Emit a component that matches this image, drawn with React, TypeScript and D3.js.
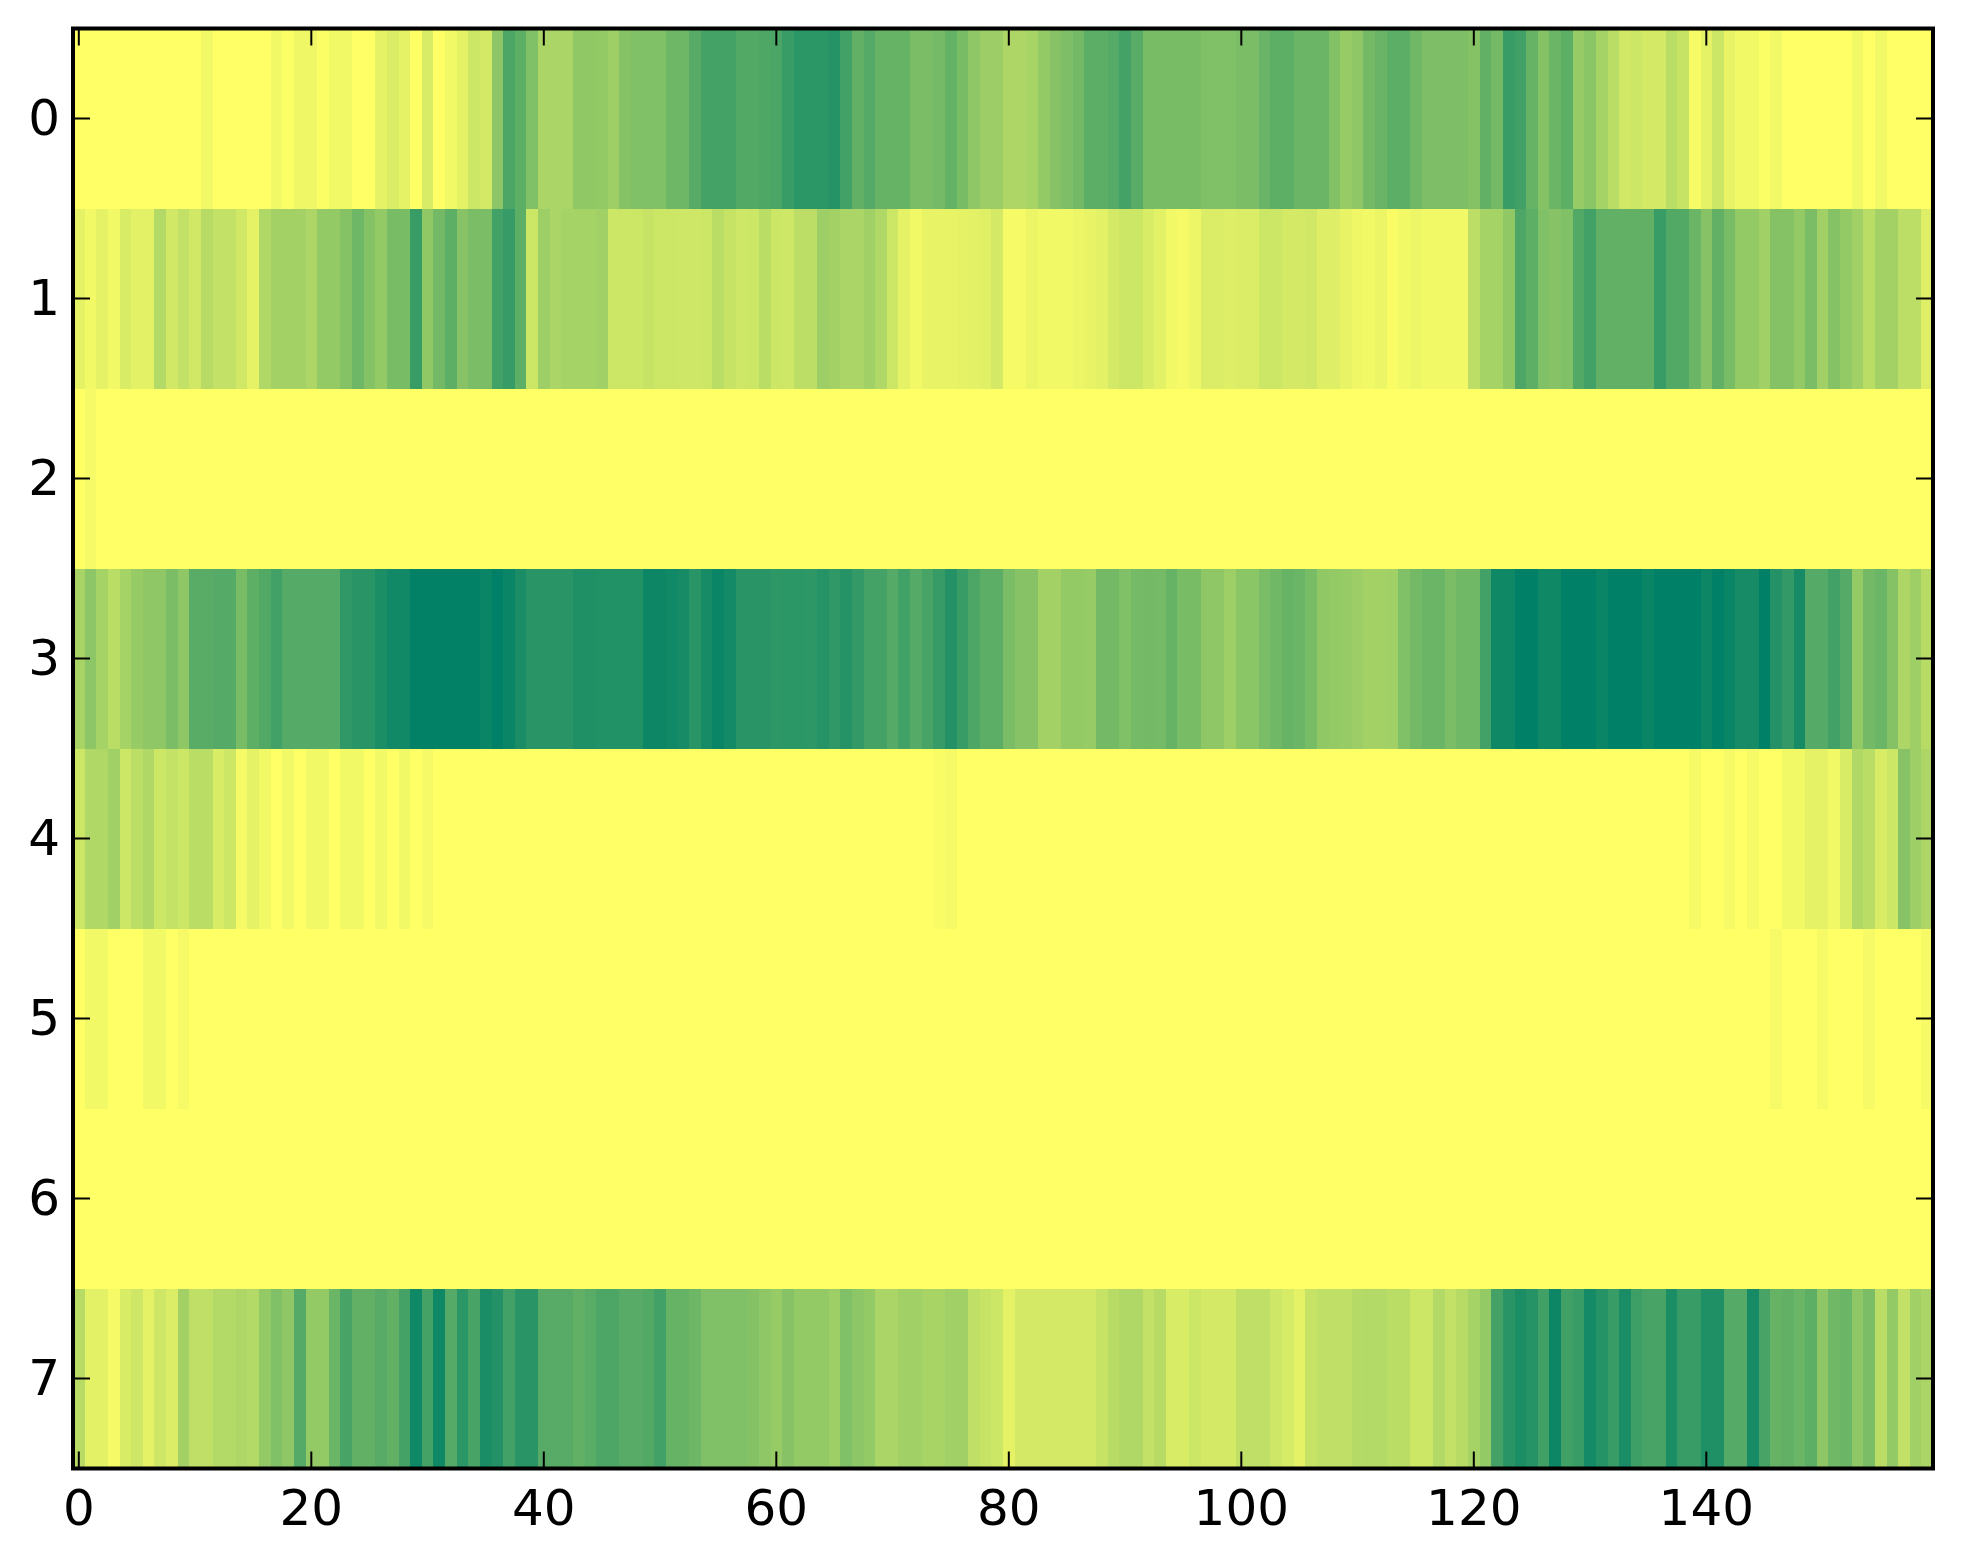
import React, { useEffect, useRef } from 'react';
import * as d3 from 'd3';

// Values, 0 = pale end of the colour map, 100 = dark end
const row0 = [
  0, 0, 0, 0, 0, 0, 0, 0, 0, 0,
  0, 5, 0, 0, 0, 0, 0, 5, 1, 6,
  6, 1, 5, 5, 0, 0, 10, 14, 10, 0,
  15, 0, 5, 10, 20, 17, 45, 70, 63, 50,
  33, 33, 33, 43, 43, 42, 38, 48, 50, 50,
  50, 57, 57, 66, 73, 73, 73, 68, 68, 69,
  71, 78, 83, 83, 83, 85, 74, 62, 67, 60,
  60, 60, 52, 52, 54, 61, 53, 44, 39, 39,
  32, 32, 34, 42, 47, 51, 55, 64, 64, 67,
  73, 65, 53, 53, 53, 53, 53, 50, 50, 50,
  52, 52, 59, 63, 63, 58, 58, 58, 49, 41,
  44, 55, 59, 64, 64, 56, 51, 51, 51, 51,
  48, 62, 55, 78, 75, 60, 48, 58, 63, 41,
  46, 35, 27, 18, 20, 17, 17, 27, 22, 3,
  10, 20, 9, 5, 5, 1, 5, 0, 0, 0,
  0, 0, 0, 5, 0, 5, 0, 0, 0, 0,
];
const row1 = [
  10, 5, 10, 5, 15, 11, 11, 30, 18, 24,
  18, 28, 24, 24, 18, 10, 31, 36, 36, 36,
  32, 42, 42, 48, 57, 48, 42, 53, 53, 78,
  43, 55, 63, 47, 52, 52, 74, 79, 63, 20,
  38, 33, 35, 35, 35, 37, 20, 20, 20, 22,
  20, 20, 19, 19, 20, 27, 22, 19, 20, 27,
  20, 19, 26, 26, 38, 36, 33, 33, 37, 31,
  20, 10, 5, 9, 9, 9, 10, 11, 12, 17,
  4, 4, 8, 5, 5, 5, 7, 9, 11, 17,
  20, 20, 15, 11, 5, 4, 7, 14, 14, 13,
  14, 14, 20, 20, 17, 17, 18, 13, 13, 9,
  6, 5, 8, 2, 5, 7, 5, 5, 5, 5,
  26, 35, 35, 43, 70, 63, 50, 47, 50, 68,
  74, 62, 62, 62, 62, 62, 78, 68, 68, 58,
  47, 62, 53, 42, 42, 37, 48, 48, 42, 52,
  37, 48, 42, 37, 27, 36, 36, 26, 26, 13,
];
const row2 = [
  0, 4, 0, 0, 0, 0, 0, 0, 0, 0,
  0, 0, 0, 0, 0, 0, 0, 0, 0, 0,
  0, 0, 0, 0, 0, 0, 0, 0, 0, 0,
  0, 0, 0, 0, 0, 0, 0, 0, 0, 0,
  0, 0, 0, 0, 0, 0, 0, 0, 0, 0,
  0, 0, 0, 0, 0, 0, 0, 0, 0, 0,
  0, 0, 0, 0, 0, 0, 0, 0, 0, 0,
  0, 0, 0, 0, 0, 0, 0, 0, 0, 0,
  0, 0, 0, 0, 0, 0, 0, 0, 0, 0,
  0, 0, 0, 0, 0, 0, 0, 0, 0, 0,
  0, 0, 0, 0, 0, 0, 0, 0, 0, 0,
  0, 0, 0, 0, 0, 0, 0, 0, 0, 0,
  0, 0, 0, 0, 0, 0, 0, 0, 0, 0,
  0, 0, 0, 0, 0, 0, 0, 0, 0, 0,
  0, 0, 0, 0, 0, 0, 0, 0, 0, 0,
  0, 0, 0, 0, 0, 0, 0, 0, 0, 0,
];
const row3 = [
  34, 45, 35, 27, 35, 41, 44, 44, 52, 44,
  65, 65, 67, 67, 53, 63, 68, 74, 67, 67,
  67, 67, 67, 81, 84, 84, 89, 93, 93, 99,
  99, 99, 99, 99, 99, 96, 100, 96, 90, 84,
  84, 84, 84, 88, 88, 87, 87, 87, 87, 95,
  95, 93, 91, 84, 91, 96, 92, 84, 84, 84,
  82, 83, 83, 82, 85, 81, 85, 80, 73, 73,
  67, 74, 67, 72, 79, 86, 78, 70, 64, 64,
  52, 47, 47, 36, 36, 42, 42, 41, 55, 55,
  50, 54, 55, 54, 60, 53, 53, 44, 44, 38,
  46, 46, 52, 56, 60, 58, 53, 43, 42, 41,
  39, 36, 36, 37, 50, 55, 58, 58, 52, 56,
  56, 74, 94, 94, 100, 100, 94, 94, 100, 100,
  100, 96, 100, 100, 100, 96, 100, 100, 100, 100,
  95, 100, 96, 91, 91, 100, 86, 80, 91, 67,
  67, 74, 67, 42, 55, 58, 48, 32, 38, 28,
];
const row4 = [
  20, 31, 31, 37, 20, 26, 31, 20, 23, 20,
  27, 27, 15, 20, 4, 10, 5, 0, 5, 0,
  5, 5, 0, 5, 5, 0, 5, 0, 5, 0,
  4, 0, 0, 0, 0, 0, 0, 0, 0, 0,
  0, 0, 0, 0, 0, 0, 0, 0, 0, 0,
  0, 0, 0, 0, 0, 0, 0, 0, 0, 0,
  0, 0, 0, 0, 0, 0, 0, 0, 0, 0,
  0, 0, 0, 0, 2, 4, 0, 0, 0, 0,
  0, 0, 0, 0, 0, 0, 0, 0, 0, 0,
  0, 0, 0, 0, 0, 0, 0, 0, 0, 0,
  0, 0, 0, 0, 0, 0, 0, 0, 0, 0,
  0, 0, 0, 0, 0, 0, 0, 0, 0, 0,
  0, 0, 0, 0, 0, 0, 0, 0, 0, 0,
  0, 0, 0, 0, 0, 0, 0, 0, 0, 4,
  0, 0, 4, 0, 4, 0, 0, 5, 5, 10,
  10, 5, 15, 31, 27, 15, 20, 47, 38, 32,
];
const row5 = [
  0, 5, 5, 0, 0, 0, 5, 5, 0, 4,
  0, 0, 0, 0, 0, 0, 0, 0, 0, 0,
  0, 0, 0, 0, 0, 0, 0, 0, 0, 0,
  0, 0, 0, 0, 0, 0, 0, 0, 0, 0,
  0, 0, 0, 0, 0, 0, 0, 0, 0, 0,
  0, 0, 0, 0, 0, 0, 0, 0, 0, 0,
  0, 0, 0, 0, 0, 0, 0, 0, 0, 0,
  0, 0, 0, 0, 0, 0, 0, 0, 0, 0,
  0, 0, 0, 0, 0, 0, 0, 0, 0, 0,
  0, 0, 0, 0, 0, 0, 0, 0, 0, 0,
  0, 0, 0, 0, 0, 0, 0, 0, 0, 0,
  0, 0, 0, 0, 0, 0, 0, 0, 0, 0,
  0, 0, 0, 0, 0, 0, 0, 0, 0, 0,
  0, 0, 0, 0, 0, 0, 0, 0, 0, 0,
  0, 0, 0, 0, 0, 0, 4, 0, 0, 0,
  4, 0, 0, 0, 4, 0, 0, 0, 0, 4,
];
const row6 = [
  0, 0, 0, 0, 0, 0, 0, 0, 0, 0,
  0, 0, 0, 0, 0, 0, 0, 0, 0, 0,
  0, 0, 0, 0, 0, 0, 0, 0, 0, 0,
  0, 0, 0, 0, 0, 0, 0, 0, 0, 0,
  0, 0, 0, 0, 0, 0, 0, 0, 0, 0,
  0, 0, 0, 0, 0, 0, 0, 0, 0, 0,
  0, 0, 0, 0, 0, 0, 0, 0, 0, 0,
  0, 0, 0, 0, 0, 0, 0, 0, 0, 0,
  0, 0, 0, 0, 0, 0, 0, 0, 0, 0,
  0, 0, 0, 0, 0, 0, 0, 0, 0, 0,
  0, 0, 0, 0, 0, 0, 0, 0, 0, 0,
  0, 0, 0, 0, 0, 0, 0, 0, 0, 0,
  0, 0, 0, 0, 0, 0, 0, 0, 0, 0,
  0, 0, 0, 0, 0, 0, 0, 0, 0, 0,
  0, 0, 0, 0, 0, 0, 0, 0, 0, 0,
  0, 0, 0, 0, 0, 0, 0, 0, 0, 0,
];
const row7 = [
  28, 11, 11, 4, 15, 19, 10, 19, 14, 36,
  25, 25, 30, 30, 32, 30, 42, 50, 44, 67,
  42, 42, 58, 72, 62, 62, 66, 62, 73, 94,
  73, 94, 67, 83, 72, 90, 86, 74, 84, 84,
  66, 66, 66, 62, 65, 70, 70, 66, 66, 68,
  74, 60, 60, 57, 50, 50, 50, 50, 48, 44,
  41, 47, 42, 42, 42, 38, 50, 45, 42, 33,
  33, 37, 37, 34, 34, 37, 37, 25, 22, 20,
  10, 17, 17, 17, 17, 17, 17, 17, 22, 28,
  31, 31, 24, 28, 15, 15, 20, 17, 17, 17,
  25, 25, 25, 19, 16, 10, 22, 25, 25, 25,
  29, 30, 30, 27, 27, 20, 20, 30, 24, 28,
  35, 42, 73, 84, 89, 85, 75, 95, 75, 78,
  92, 85, 78, 90, 76, 72, 72, 89, 78, 78,
  88, 88, 67, 67, 91, 72, 60, 62, 58, 63,
  44, 56, 58, 44, 52, 27, 42, 24, 37, 33,
];

const rows = [row0, row1, row2, row3, row4, row5, row6, row7];
const xTicks = [0, 20, 40, 60, 80, 100, 120, 140];
const yTicks = [0, 1, 2, 3, 4, 5, 6, 7];

const App: React.FC = () => {
  const svgRef = useRef<SVGSVGElement>(null);

  useEffect(() => {
    if (!svgRef.current) return;

    const svg = d3.select(svgRef.current);
    svg.selectAll("*").remove();

    const width = 1963;
    const height = 1564;
    const margin = { top: 28.5, right: 30, bottom: 95.5, left: 73 };

    svg.attr("width", width).attr("height", height);

    const x = d3.scaleLinear()
      .domain([-0.5, 159.5])
      .range([margin.left, width - margin.right]);

    const y = d3.scaleLinear()
      .domain([-0.5, 7.5])
      .range([margin.top, height - margin.bottom]);

    // summer_r
    const color = d3.scaleLinear<string>()
      .domain([0, 100])
      .range(["#ffff66", "#008066"]);

    // Heatmap cells
    rows.forEach((values, rowIndex) => {
      svg.append("g")
        .attr("shape-rendering", "crispEdges")
        .selectAll("rect")
        .data(values)
        .enter()
        .append("rect")
        .attr("x", (_, i) => x(i - 0.5))
        .attr("width", (_, i) => x(i + 0.5) - x(i - 0.5))
        .attr("y", y(rowIndex - 0.5))
        .attr("height", y(rowIndex + 0.5) - y(rowIndex - 0.5))
        .attr("fill", d => color(d));
    });

    const tickLen = 17;

    // Axes, ticks point inward on all four sides
    const bottom = svg.append("g")
      .attr("transform", `translate(0,${height - margin.bottom})`)
      .call(d3.axisBottom(x).tickValues(xTicks).tickFormat(d3.format("d")).tickSizeInner(-tickLen).tickSizeOuter(0).tickPadding(21).offset(0));

    const left = svg.append("g")
      .attr("transform", `translate(${margin.left},0)`)
      .call(d3.axisLeft(y).tickValues(yTicks).tickFormat(d3.format("d")).tickSizeInner(-tickLen).tickSizeOuter(0).tickPadding(13).offset(0));

    const top = svg.append("g")
      .attr("transform", `translate(0,${margin.top})`)
      .call(d3.axisTop(x).tickValues(xTicks).tickFormat(() => "").tickSizeInner(-tickLen).tickSizeOuter(0).offset(0));

    const right = svg.append("g")
      .attr("transform", `translate(${width - margin.right},0)`)
      .call(d3.axisRight(y).tickValues(yTicks).tickFormat(() => "").tickSizeInner(-tickLen).tickSizeOuter(0).offset(0));

    [bottom, left, top, right].forEach(axis => {
      axis.select(".domain").remove();
      axis.selectAll(".tick line").attr("stroke", "#000").attr("stroke-width", 2);
      axis.selectAll("text")
        .attr("fill", "#000")
        .attr("font-family", "'DejaVu Sans'")
        .attr("font-size", 50);
    });

    // Frame
    svg.append("rect")
      .attr("x", margin.left)
      .attr("y", margin.top)
      .attr("width", width - margin.left - margin.right)
      .attr("height", height - margin.top - margin.bottom)
      .attr("fill", "none")
      .attr("stroke", "#000")
      .attr("stroke-width", 4);
  }, []);

  return <svg ref={svgRef} style={{ position: "absolute", left: 0, top: 0, display: "block", background: "#fff" }}></svg>;
};

export default App;
